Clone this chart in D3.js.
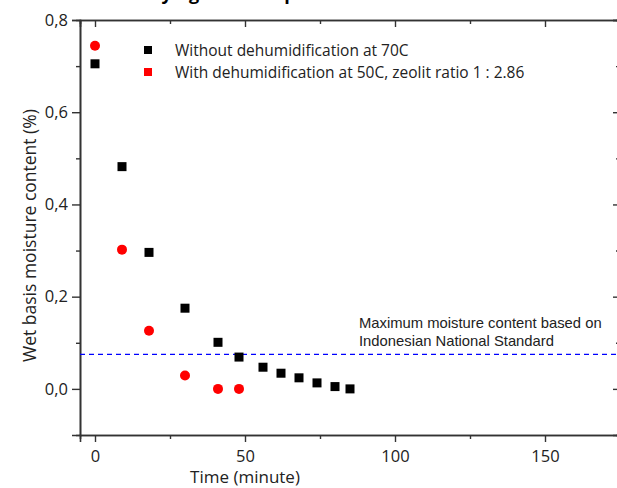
<!DOCTYPE html>
<meta charset="utf-8">
<script src="https://d3js.org/d3.v7.min.js"></script>
<style>
  body { margin: 0; background: #fff; }
</style>
<body>
<div id="chart"></div>
<script>

// black squares: without dehumidification at 70C
var timeA = [0, 9, 18, 30, 41, 48, 56, 62, 68, 74, 80, 85];
var moistA = [0.705, 0.482, 0.296, 0.175, 0.101, 0.069, 0.047, 0.034, 0.024, 0.013, 0.005, 0.0];

// red circles: with dehumidification at 50C
var timeB = [0, 9, 18, 30, 41, 48];
var moistB = [0.744, 0.302, 0.126, 0.029, 0.0, 0.0];

var standardLevel = 0.075;
var xTicks = [0, 50, 100, 150];
var yTicks = [0, 0.2, 0.4, 0.6, 0.8];
var legendLabels = ["Without dehumidification at 70C", "With dehumidification at 50C, zeolit ratio 1 : 2.86"];

var W = 617, H = 488;
var margin = {top: 20, right: -3, bottom: 53, left: 80};
var width = W - margin.left - margin.right,
    height = H - margin.top - margin.bottom;

var uiFont = "'Open Sans', 'Noto Sans', sans-serif";
var arial = "'Liberation Sans', Arial, sans-serif";

var svg = d3.select("#chart")
  .append("svg")
    .attr("width", W)
    .attr("height", H)
    .style("font-family", uiFont);

// title, mostly cut off at the top of the picture
svg.append("text")
    .attr("x", 140)
    .attr("y", 0)
    .attr("font-size", "18px")
    .attr("font-weight", "bold")
    .text("Drying rate comparison");

var g = svg.append("g")
    .attr("transform", "translate(" + margin.left + "," + margin.top + ")");

var x = d3.scaleLinear().domain([-5, 175]).range([0, width]);
var y = d3.scaleLinear().domain([-0.1, 0.8]).range([height, 0]);

var comma = function(d) { return d3.format(".1f")(d).replace(".", ","); };

// bottom axis
g.append("g")
    .attr("transform", "translate(0," + height + ")")
    .call(d3.axisBottom(x).tickValues(xTicks).tickSize(7).tickPadding(8));
g.append("g")
    .attr("transform", "translate(0," + height + ")")
    .call(d3.axisBottom(x).tickValues([25, 75, 125]).tickSize(4).tickFormat(""));

// left axis
g.append("g")
    .call(d3.axisLeft(y).tickValues(yTicks).tickSize(8).tickPadding(4).tickFormat(comma));
g.append("g")
    .call(d3.axisLeft(y).tickValues([0.1, 0.3, 0.5, 0.7]).tickSize(4).tickFormat(""));

// top and right axes, ticks inward
g.append("g")
    .call(d3.axisTop(x).tickValues(xTicks).tickSize(-7).tickFormat(""));
g.append("g")
    .call(d3.axisTop(x).tickValues([25, 75, 125]).tickSize(-4).tickFormat(""));
g.append("g")
    .attr("transform", "translate(" + width + ",0)")
    .call(d3.axisRight(y).tickValues(yTicks).tickSize(-7).tickFormat(""));
g.append("g")
    .attr("transform", "translate(" + width + ",0)")
    .call(d3.axisRight(y).tickValues([0.1, 0.3, 0.5, 0.7]).tickSize(-4).tickFormat(""));

g.selectAll(".domain").attr("stroke", "#333").attr("stroke-width", 1.6);
g.selectAll(".tick line").attr("stroke", "#333").attr("stroke-width", 1.4);
g.selectAll(".tick text")
    .style("font-family", uiFont)
    .style("font-size", "16.5px")
    .attr("fill", "#222");

// axis titles
g.append("text")
    .attr("x", x(50))
    .attr("y", height + 48)
    .attr("text-anchor", "middle")
    .attr("font-size", "17px")
    .attr("fill", "#222")
    .text("Time (minute)");

g.append("text")
    .attr("transform", "translate(-44," + (height / 2 + 8) + ") rotate(-90)")
    .attr("text-anchor", "middle")
    .attr("font-size", "17.5px")
    .attr("fill", "#222")
    .text("Wet basis moisture content (%)");

// standard line
g.append("line")
    .attr("x1", 0)
    .attr("x2", width)
    .attr("y1", y(standardLevel))
    .attr("y2", y(standardLevel))
    .attr("stroke", "blue")
    .attr("stroke-width", 1.2)
    .attr("stroke-dasharray", "5,4");

g.append("text")
    .attr("x", x(88))
    .attr("y", y(standardLevel) - 26)
    .style("font-family", arial)
    .attr("font-size", "14.8px")
    .attr("fill", "#222")
    .text("Maximum moisture content based on");
g.append("text")
    .attr("x", x(88))
    .attr("y", y(standardLevel) - 8)
    .style("font-family", arial)
    .attr("font-size", "14.8px")
    .attr("fill", "#222")
    .text("Indonesian National Standard");

// data
var s = 9;
g.append("g")
  .selectAll("rect")
  .data(timeA)
  .enter()
  .append("rect")
    .attr("x", function (d) { return x(d) - s / 2; })
    .attr("y", function (d, i) { return y(moistA[i]) - s / 2; })
    .attr("width", s)
    .attr("height", s)
    .attr("fill", "black");

g.append("g")
  .selectAll("circle")
  .data(timeB)
  .enter()
  .append("circle")
    .attr("cx", function (d) { return x(d); })
    .attr("cy", function (d, i) { return y(moistB[i]); })
    .attr("r", 5)
    .attr("fill", "red");

// legend
var legend = svg.append("g").attr("transform", "translate(148,50)");
legendLabels.forEach(function (lab, i) {
  legend.append("rect")
      .attr("x", -4)
      .attr("y", i * 22 - 4)
      .attr("width", 8)
      .attr("height", 8)
      .attr("fill", i == 0 ? "black" : "red");
  legend.append("text")
      .attr("x", 27)
      .attr("y", i * 22 + 5.5)
      .attr("font-size", "15.5px")
      .attr("fill", "#222")
      .text(lab);
});

</script>
</body>
